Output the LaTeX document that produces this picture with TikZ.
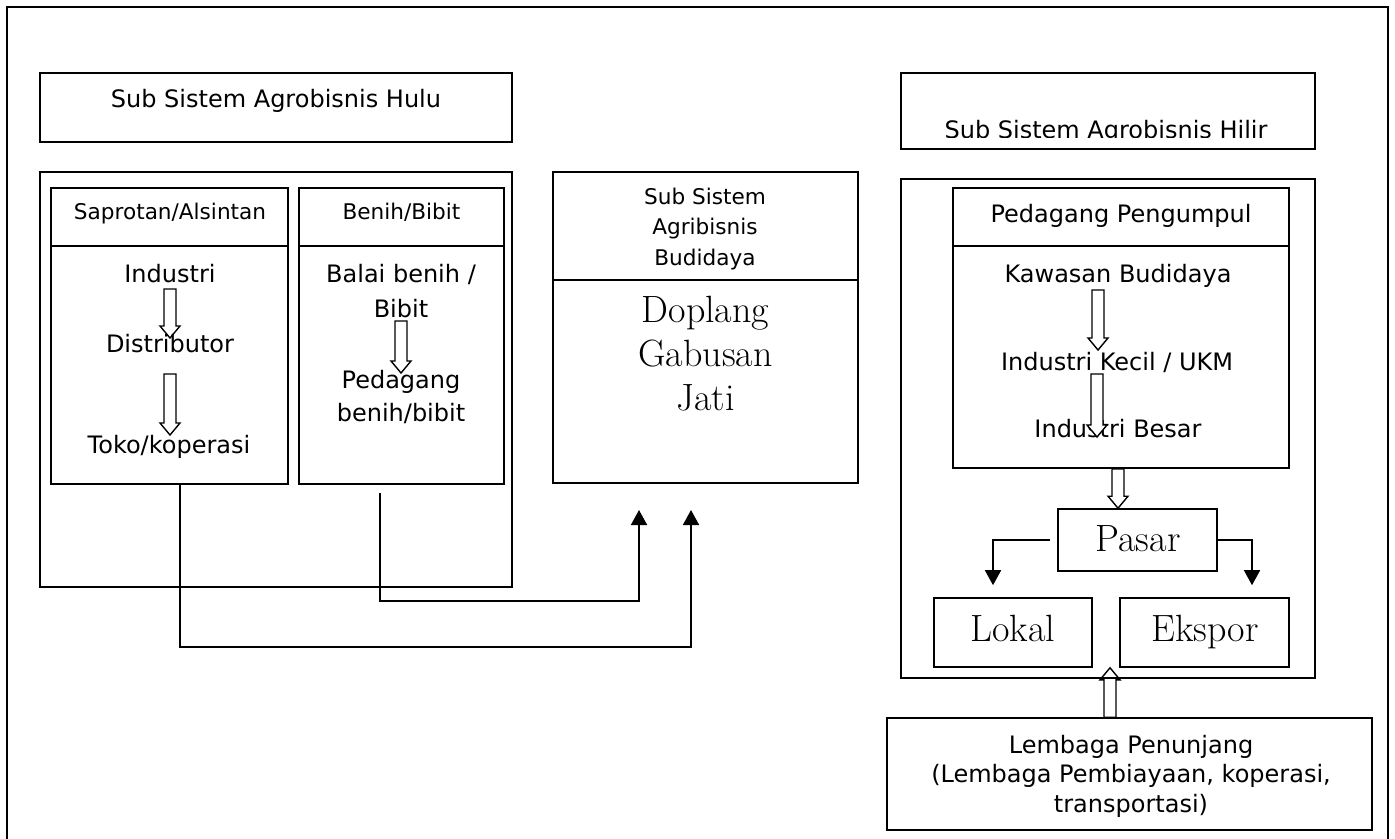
\documentclass[tikz,border=0pt]{standalone}
\usepackage{fontspec}
\setsansfont{DejaVu Sans}
\usetikzlibrary{arrows.meta,calc}

\tikzset{
  box/.style={draw, line width=0.8pt, inner sep=0pt},
  bodytext/.style={font=\sffamily\fontsize{12}{14}\selectfont, inner sep=0pt, anchor=base},
  hdtext/.style={font=\sffamily\fontsize{10.8}{13}\selectfont, inner sep=0pt, anchor=base},
  bigtext/.style={font=\rmfamily\fontsize{19}{23}\selectfont, inner sep=0pt, anchor=base},
  hollow/.style={draw, line width=0.7pt},
  flow/.style={line width=0.8pt, -{Triangle[length=7.5pt,width=8pt]}}
}

% block arrow: x from the start, y from the tip
\newcommand{\hollowarrow}[3][]{%
  \draw[hollow,#1] let \p1=(#2), \p2=(#3), \n1={sign(\y1-\y2)*6} in
    (\x1-3pt,\y1) -- (\x1-3pt,\y2+\n1*1pt) -- (\x1-5pt,\y2+\n1*1pt) -- (\x1,\y2)
    -- (\x1+5pt,\y2+\n1*1pt) -- (\x1+3pt,\y2+\n1*1pt) -- (\x1+3pt,\y1) -- cycle;}

\begin{document}
\begin{tikzpicture}[x=0.5pt, y=-0.5pt]
  \useasboundingbox (0,0) rectangle (1395,839);
  \draw[line width=0.8pt] (7,845) -- (7,7) -- (1388,7) -- (1388,845);

  % hulu
  \node[box, minimum width=236pt, minimum height=34.5pt] (hulu) at (276,107.5) {};
  \node[bodytext] (hulutxt) at (276,108) {Sub Sistem Agrobisnis Hulu};
  \node[box, minimum width=236pt, minimum height=207.5pt] (hulubox) at (276,379.5) {};
  \node[box, minimum width=118.5pt, minimum height=148pt] (saprotan) at (169.5,336) {};
  \node[box, minimum width=102.5pt, minimum height=148pt] (benih) at (401.5,336) {};
  \draw[box] ([yshift=-29.5pt]saprotan.north west) -- ([yshift=-29.5pt]saprotan.north east);
  \draw[box] ([yshift=-29.5pt]benih.north west) -- ([yshift=-29.5pt]benih.north east);
  \node[hdtext] (saprotantxt) at (170,220) {Saprotan/Alsintan};
  \node[hdtext] (benihtxt) at (401.5,220) {Benih/Bibit};
  \node[bodytext] (industri) at (170,283) {Industri};
  \node[bodytext] (distributor) at (170,352) {Distributor};
  \node[bodytext] (toko) at (169,453) {Toko/koperasi};
  \node[bodytext] (balai) at (401,283) {Balai benih /};
  \node[bodytext] (bibit) at (401,318) {Bibit};
  \node[bodytext] (pedagang) at (401,388) {Pedagang};
  \node[bodytext] (pedbenih) at (401,421) {benih/bibit};

  % budidaya
  \node[box, minimum width=152.5pt, minimum height=155.5pt] (budidaya) at (705.5,327.5) {};
  \draw[box] ([yshift=-54.5pt]budidaya.north west) -- ([yshift=-54.5pt]budidaya.north east);
  \foreach \t [count=\i] in {Sub Sistem, Agribisnis, Budidaya}
    \node[hdtext] (bud\i) at (705,174+30.5*\i) {\t};
  \foreach \t [count=\i] in {Doplang, Gabusan, Jati}
    \node[bigtext] (desa\i) at (705.5,278+44*\i) {\t};

  % hilir
  \node[box, minimum width=207pt, minimum height=38pt] (hilir) at (1108,111) {};
  \begin{scope}
    \clip (hilir.north west) rectangle ([yshift=6pt]hilir.south east);
    \node[bodytext] (hilirtxt) at (1106,139) {Sub Sistem Agrobisnis Hilir};
  \end{scope}
  \node[box, minimum width=207pt, minimum height=249.5pt] (hilirbox) at (1108,428.5) {};
  \node[box, minimum width=168pt, minimum height=140pt] (pengumpul) at (1121,328) {};
  \draw[box] ([yshift=-29.5pt]pengumpul.north west) -- ([yshift=-29.5pt]pengumpul.north east);
  \node[bodytext] (pengumpultxt) at (1121,223) {Pedagang Pengumpul};
  \node[bodytext] (kawasan) at (1118,283) {Kawasan Budidaya};
  \node[bodytext] (ukm) at (1117,370) {Industri Kecil / UKM};
  \node[bodytext] (besar) at (1118,437) {Industri Besar};

  \node[box, minimum width=79.5pt, minimum height=31pt] (pasar) at (1137.5,540) {};
  \node[bigtext] (pasartxt) at (1138,551) {Pasar};
  \node[box, minimum width=79pt, minimum height=34.5pt] (lokal) at (1013,632.5) {};
  \node[box, minimum width=84.5pt, minimum height=34.5pt] (ekspor) at (1204.5,632.5) {};
  \node[bigtext] (lokaltxt) at (1013,641) {Lokal};
  \node[bigtext] (eksportxt) at (1205,641) {Ekspor};

  \node[box, minimum width=242.5pt, minimum height=56pt] (lembaga) at (1129.5,774) {};
  \foreach \t [count=\i] in {Lembaga Penunjang, {(Lembaga Pembiayaan, koperasi,}, transportasi)}
    \node[bodytext] (lembaga\i) at (1131,723.5+29.5*\i) {\t};

  % block arrows
  \hollowarrow{[yshift=-3pt]industri.base}{[yshift=7pt]distributor.base}
  \hollowarrow{[yshift=-11pt]distributor.base}{[yshift=9pt]toko.base}
  \hollowarrow{[yshift=-1.5pt]bibit.base}{[yshift=7.5pt]pedagang.base}
  \hollowarrow{[xshift=-10pt,yshift=-3.5pt]kawasan.base}{[yshift=10pt]ukm.base}
  \hollowarrow[fill=white]{[xshift=-10pt,yshift=-2pt]ukm.base}{besar.base}
  \hollowarrow{[xshift=-1.5pt]pengumpul.south}{pasar.north}
  \hollowarrow{[xshift=-9.75pt]lembaga.north}{lokal.south}

  % arrows into budidaya and out of pasar
  \coordinate (inA) at (691,510);
  \coordinate (inB) at (639,510);
  \coordinate (outL) at ([xshift=-10pt,yshift=6pt]lokal.north);
  \coordinate (outR) at ([xshift=23.75pt,yshift=6pt]ekspor.north);
  \draw[flow] ([xshift=5.25pt]saprotan.south) -- ++(0,162) -| (inA);
  \draw[flow] ([xshift=-10.75pt,yshift=-4pt]benih.south) -- ++(0,108) -| (inB);
  \draw[flow] ([xshift=-3.5pt]pasar.west) -| (outL);
  \draw[flow] (pasar.east) -| (outR);
\end{tikzpicture}
\end{document}
